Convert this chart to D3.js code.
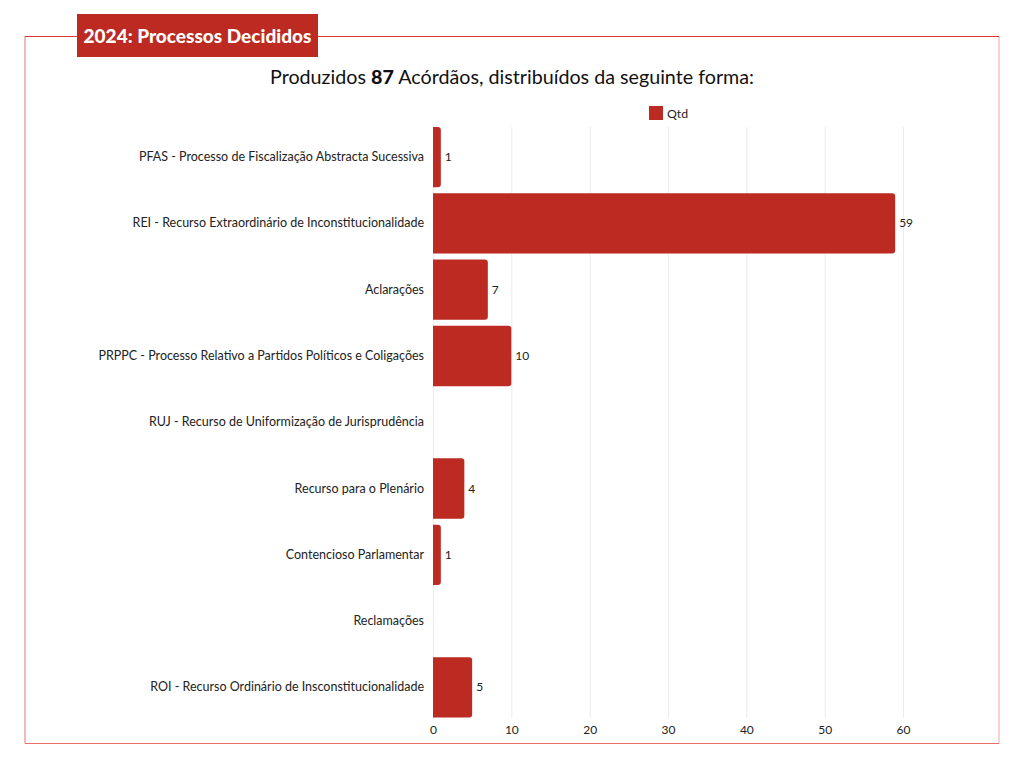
<!DOCTYPE html>
<html><head><meta charset="utf-8">
<script src="https://cdn.jsdelivr.net/npm/d3@7"></script>
<style>body{margin:0;background:#fff;}svg{display:block;font-family:Lato,"Open Sans",sans-serif;}</style>
</head><body><svg id="c" width="1024" height="768"></svg>
<script>
const categories = [
  "PFAS - Processo de Fiscalização Abstracta Sucessiva",
  "REI - Recurso Extraordinário de Inconstitucionalidade",
  "Aclarações",
  "PRPPC - Processo Relativo a Partidos Políticos e Coligações",
  "RUJ - Recurso de Uniformização de Jurisprudência",
  "Recurso para o Plenário",
  "Contencioso Parlamentar",
  "Reclamações",
  "ROI - Recurso Ordinário de Insconstitucionalidade"
];
const values = [1, 59, 7, 10, 0, 4, 1, 0, 5];
const xTicks = [0, 10, 20, 30, 40, 50, 60];
const seriesName = "Qtd";
const titleText = "2024: Processos Decididos";
const subtitleParts = ["Produzidos ", "87", " Acórdãos, distribuídos da seguinte forma:"];

const red = "#bc2a22";
const svg = d3.select("#c");

// frame
svg.append("line").attr("x1",25).attr("x2",25).attr("y1",36).attr("y2",743.5).attr("stroke","#e9706a").attr("stroke-width",1);
svg.append("line").attr("x1",999).attr("x2",999).attr("y1",36).attr("y2",743.5).attr("stroke","#f5c3c0").attr("stroke-width",1.5);
svg.append("line").attr("x1",25).attr("x2",999).attr("y1",743.5).attr("y2",743.5).attr("stroke","#e9706a").attr("stroke-width",1);
svg.append("line").attr("x1",25).attr("x2",999).attr("y1",36.5).attr("y2",36.5).attr("stroke","#e0362f").attr("stroke-width",1.2);

// title box
svg.append("rect").attr("x",77).attr("y",14).attr("width",241).attr("height",43).attr("fill",red);
svg.append("text").attr("x",197.5).attr("y",43).attr("text-anchor","middle").attr("fill","#fff")
  .attr("font-size",19).attr("font-weight",900).text(titleText);

// subtitle
const st = svg.append("text").attr("x",512).attr("y",84).attr("text-anchor","middle").attr("font-size",19.7).attr("fill","#111");
st.append("tspan").text(subtitleParts[0]);
st.append("tspan").attr("font-weight",900).text(subtitleParts[1]);
st.append("tspan").text(subtitleParts[2]);

// legend
svg.append("rect").attr("x",649).attr("y",106).attr("width",14).attr("height",14).attr("fill",red);
svg.append("text").attr("x",667).attr("y",118).attr("font-size",12.3).attr("fill","#222").text(seriesName);

const x = d3.scaleLinear().domain([0,60]).range([433,903]);
const y = d3.scaleBand().domain(categories).range([124,720.5]).paddingInner(0.09).paddingOuter(0.045);

// gridlines
svg.append("g").selectAll("line").data(xTicks).join("line")
  .attr("x1",d=>x(d)+0.5).attr("x2",d=>x(d)+0.5).attr("y1",127).attr("y2",718)
  .attr("stroke","#ececec").attr("stroke-width",1);

// bars with rounded right corners
const r = 3;
function barPath(d){
  const x0 = x(0), x1 = x(d.v), y0 = y(d.c), h = y.bandwidth();
  const rr = Math.min(r, (x1-x0)/2);
  return `M${x0},${y0}H${x1-rr}Q${x1},${y0} ${x1},${y0+rr}V${y0+h-rr}Q${x1},${y0+h} ${x1-rr},${y0+h}H${x0}Z`;
}
const data = categories.map((c,i)=>({c, v: values[i]}));
svg.append("g").selectAll("path").data(data.filter(d=>d.v>0)).join("path")
  .attr("d",barPath).attr("fill",red);

// value labels
svg.append("g").selectAll("text").data(data.filter(d=>d.v>0)).join("text")
  .attr("x",d=>x(d.v)+4).attr("y",d=>y(d.c)+y.bandwidth()/2+4)
  .attr("font-size",12).attr("fill","#222").text(d=>d.v);

// y axis labels
const yAxis = d3.axisLeft(y).tickSize(0).tickPadding(9);
const gy = svg.append("g").attr("transform",`translate(${x(0)},0)`).call(yAxis);
gy.select(".domain").remove();
gy.selectAll("text").attr("font-size",12.5).attr("fill","#222").attr("font-family","Lato, sans-serif");

// x axis
const xAxis = d3.axisBottom(x).tickValues(xTicks).tickSize(0).tickPadding(6);
const gx = svg.append("g").attr("transform","translate(0,719)").call(xAxis);
gx.select(".domain").remove();
gx.selectAll("text").attr("font-size",12).attr("fill","#222").attr("font-family","Lato, sans-serif");
</script></body></html>
